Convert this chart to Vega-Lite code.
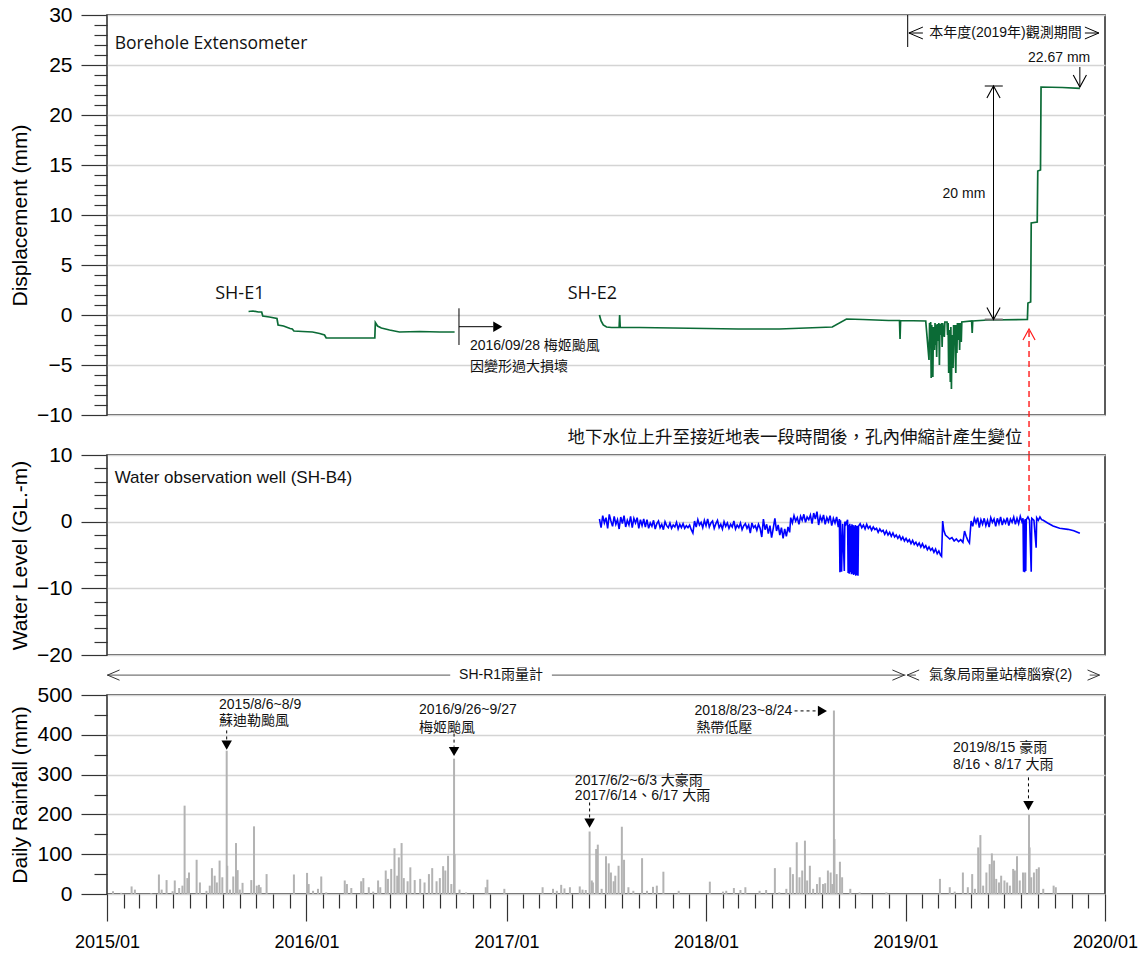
{
  "$schema": "https://vega.github.io/schema/vega-lite/v6.json",
  "background": "white",
  "padding": {"left": 8, "top": 3, "right": 5, "bottom": 5},
  "spacing": 40,
  "bounds": "flush",
  "config": {
    "view": {"stroke": "#262626", "strokeWidth": 1.5},
    "font": "Liberation Sans",
    "axis": {
      "labelFont": "Liberation Sans", "labelFontSize": 21, "labelColor": "#000",
      "titleFont": "Liberation Sans", "titleFontSize": 21, "titleFontWeight": "normal", "titleColor": "#000",
      "tickColor": "#333", "tickWidth": 1.2, "domain": false, "grid": true, "gridWidth": 1.4,
      "labelOverlap": false, "labelPadding": 9, "titlePadding": 6
    }
  },
  "datasets": {
    "disp": [
      {"d": "2015-09-17", "v": 0.35, "s": "E1"}, {"d": "2015-09-25", "v": 0.4, "s": "E1"}, {"d": "2015-10-05", "v": 0.3, "s": "E1"},
      {"d": "2015-10-11", "v": 0.3, "s": "E1"}, {"d": "2015-10-13", "v": -0.1, "s": "E1"}, {"d": "2015-10-25", "v": -0.2, "s": "E1"},
      {"d": "2015-11-08", "v": -0.35, "s": "E1"}, {"d": "2015-11-10", "v": -1.0, "s": "E1"}, {"d": "2015-11-20", "v": -1.1, "s": "E1"},
      {"d": "2015-12-02", "v": -1.35, "s": "E1"}, {"d": "2015-12-06", "v": -1.4, "s": "E1"}, {"d": "2015-12-09", "v": -1.6, "s": "E1"},
      {"d": "2015-12-25", "v": -1.65, "s": "E1"}, {"d": "2016-01-12", "v": -1.7, "s": "E1"}, {"d": "2016-01-25", "v": -1.85, "s": "E1"},
      {"d": "2016-02-03", "v": -2.0, "s": "E1"}, {"d": "2016-02-06", "v": -2.3, "s": "E1"}, {"d": "2016-05-05", "v": -2.3, "s": "E1"},
      {"d": "2016-05-06", "v": -0.75, "s": "E1"}, {"d": "2016-05-10", "v": -1.1, "s": "E1"}, {"d": "2016-05-17", "v": -1.3, "s": "E1"},
      {"d": "2016-06-01", "v": -1.5, "s": "E1"}, {"d": "2016-06-19", "v": -1.7, "s": "E1"}, {"d": "2016-07-26", "v": -1.65, "s": "E1"},
      {"d": "2016-09-01", "v": -1.7, "s": "E1"}, {"d": "2016-09-28", "v": -1.7, "s": "E1"},
      {"d": "2017-06-20", "v": 0.0, "s": "E2"}, {"d": "2017-06-23", "v": -0.6, "s": "E2"}, {"d": "2017-06-27", "v": -1.0, "s": "E2"},
      {"d": "2017-07-03", "v": -1.2, "s": "E2"}, {"d": "2017-07-12", "v": -1.25, "s": "E2"}, {"d": "2017-07-26", "v": -1.25, "s": "E2"},
      {"d": "2017-07-27", "v": 0.0, "s": "E2"}, {"d": "2017-07-28", "v": -1.25, "s": "E2"}, {"d": "2017-09-01", "v": -1.25, "s": "E2"},
      {"d": "2017-11-01", "v": -1.3, "s": "E2"}, {"d": "2018-01-01", "v": -1.35, "s": "E2"}, {"d": "2018-03-01", "v": -1.4, "s": "E2"},
      {"d": "2018-05-15", "v": -1.4, "s": "E2"}, {"d": "2018-08-20", "v": -1.2, "s": "E2"}, {"d": "2018-09-15", "v": -0.4, "s": "E2"},
      {"d": "2018-10-15", "v": -0.45, "s": "E2"}, {"d": "2018-12-01", "v": -0.55, "s": "E2"}, {"d": "2018-12-21", "v": -0.55, "s": "E2"},
      {"d": "2018-12-22", "v": -2.4, "s": "E2"}, {"d": "2018-12-23", "v": -0.55, "s": "E2"}, {"d": "2019-02-07", "v": -0.6, "s": "E2"},
      {"d": "2019-02-13", "v": -4.5, "s": "E2"}, {"d": "2019-02-14", "v": -0.8, "s": "E2"}, {"d": "2019-02-15", "v": -3.0, "s": "E2"},
      {"d": "2019-02-16", "v": -0.7, "s": "E2"}, {"d": "2019-02-17", "v": -6.3, "s": "E2"}, {"d": "2019-02-18", "v": -1.0, "s": "E2"},
      {"d": "2019-02-19", "v": -3.8, "s": "E2"}, {"d": "2019-02-20", "v": -6.2, "s": "E2"}, {"d": "2019-02-21", "v": -1.2, "s": "E2"},
      {"d": "2019-02-22", "v": -2.5, "s": "E2"}, {"d": "2019-02-23", "v": -3.5, "s": "E2"}, {"d": "2019-02-24", "v": -0.8, "s": "E2"},
      {"d": "2019-02-25", "v": -3.0, "s": "E2"}, {"d": "2019-02-26", "v": -1.0, "s": "E2"}, {"d": "2019-02-27", "v": -4.2, "s": "E2"},
      {"d": "2019-02-28", "v": -0.9, "s": "E2"}, {"d": "2019-03-02", "v": -2.6, "s": "E2"}, {"d": "2019-03-03", "v": -0.8, "s": "E2"},
      {"d": "2019-03-04", "v": -5.0, "s": "E2"}, {"d": "2019-03-05", "v": -0.9, "s": "E2"}, {"d": "2019-03-07", "v": -2.0, "s": "E2"},
      {"d": "2019-03-08", "v": -0.8, "s": "E2"}, {"d": "2019-03-09", "v": -3.2, "s": "E2"}, {"d": "2019-03-10", "v": -0.8, "s": "E2"},
      {"d": "2019-03-13", "v": -2.2, "s": "E2"}, {"d": "2019-03-14", "v": -0.7, "s": "E2"}, {"d": "2019-03-18", "v": -0.7, "s": "E2"},
      {"d": "2019-03-19", "v": -2.0, "s": "E2"}, {"d": "2019-03-20", "v": -0.8, "s": "E2"}, {"d": "2019-03-21", "v": -5.8, "s": "E2"},
      {"d": "2019-03-22", "v": -1.5, "s": "E2"}, {"d": "2019-03-23", "v": -4.0, "s": "E2"}, {"d": "2019-03-24", "v": -6.7, "s": "E2"},
      {"d": "2019-03-25", "v": -1.2, "s": "E2"}, {"d": "2019-03-26", "v": -7.4, "s": "E2"}, {"d": "2019-03-27", "v": -2.0, "s": "E2"},
      {"d": "2019-03-28", "v": -4.5, "s": "E2"}, {"d": "2019-03-29", "v": -5.3, "s": "E2"}, {"d": "2019-03-30", "v": -1.0, "s": "E2"},
      {"d": "2019-03-31", "v": -3.0, "s": "E2"}, {"d": "2019-04-01", "v": -1.0, "s": "E2"}, {"d": "2019-04-02", "v": -4.0, "s": "E2"},
      {"d": "2019-04-03", "v": -5.8, "s": "E2"}, {"d": "2019-04-04", "v": -1.0, "s": "E2"}, {"d": "2019-04-05", "v": -3.8, "s": "E2"},
      {"d": "2019-04-06", "v": -0.8, "s": "E2"}, {"d": "2019-04-08", "v": -2.5, "s": "E2"}, {"d": "2019-04-09", "v": -0.8, "s": "E2"},
      {"d": "2019-04-10", "v": -3.5, "s": "E2"}, {"d": "2019-04-11", "v": -0.8, "s": "E2"}, {"d": "2019-04-13", "v": -2.7, "s": "E2"},
      {"d": "2019-04-14", "v": -0.7, "s": "E2"}, {"d": "2019-05-02", "v": -0.6, "s": "E2"}, {"d": "2019-05-03", "v": -1.8, "s": "E2"},
      {"d": "2019-05-04", "v": -0.6, "s": "E2"}, {"d": "2019-06-01", "v": -0.5, "s": "E2"}, {"d": "2019-08-12", "v": -0.45, "s": "E2"},
      {"d": "2019-08-13", "v": 1.2, "s": "E2"}, {"d": "2019-08-18", "v": 1.3, "s": "E2"}, {"d": "2019-08-19", "v": 9.2, "s": "E2"},
      {"d": "2019-08-30", "v": 9.3, "s": "E2"}, {"d": "2019-08-31", "v": 14.4, "s": "E2"}, {"d": "2019-09-05", "v": 14.5, "s": "E2"},
      {"d": "2019-09-06", "v": 22.8, "s": "E2"}, {"d": "2019-10-15", "v": 22.75, "s": "E2"}, {"d": "2019-11-16", "v": 22.67, "s": "E2"}
    ],
    "wl": [
      {"d": "2017-06-20", "v": 0.4}, {"d": "2017-06-23", "v": -0.9}, {"d": "2017-06-26", "v": 0.9}, {"d": "2017-06-29", "v": -0.2},
      {"d": "2017-07-02", "v": 0.6}, {"d": "2017-07-05", "v": -1.0}, {"d": "2017-07-08", "v": 1.1}, {"d": "2017-07-11", "v": 0.1},
      {"d": "2017-07-14", "v": -0.7}, {"d": "2017-07-17", "v": 0.8}, {"d": "2017-07-20", "v": -0.4}, {"d": "2017-07-23", "v": 0.3},
      {"d": "2017-07-26", "v": -1.1}, {"d": "2017-07-29", "v": 0.7}, {"d": "2017-08-01", "v": -0.3}, {"d": "2017-08-04", "v": 0.9},
      {"d": "2017-08-07", "v": -0.8}, {"d": "2017-08-10", "v": 0.2}, {"d": "2017-08-13", "v": -0.5}, {"d": "2017-08-16", "v": 0.8},
      {"d": "2017-08-19", "v": -0.9}, {"d": "2017-08-22", "v": 0.5}, {"d": "2017-08-25", "v": -0.2}, {"d": "2017-08-28", "v": 0.6},
      {"d": "2017-08-31", "v": -1.0}, {"d": "2017-09-03", "v": 0.3}, {"d": "2017-09-06", "v": -0.6}, {"d": "2017-09-09", "v": 0.4},
      {"d": "2017-09-12", "v": -0.8}, {"d": "2017-09-15", "v": 0.3}, {"d": "2017-09-18", "v": -1.0}, {"d": "2017-09-21", "v": -0.2},
      {"d": "2017-09-24", "v": -0.7}, {"d": "2017-09-27", "v": 0.2}, {"d": "2017-09-30", "v": -1.1}, {"d": "2017-10-03", "v": -0.3},
      {"d": "2017-10-06", "v": 0.1}, {"d": "2017-10-09", "v": -0.9}, {"d": "2017-10-12", "v": -0.4}, {"d": "2017-10-15", "v": -1.2},
      {"d": "2017-10-18", "v": 0.0}, {"d": "2017-10-21", "v": -0.6}, {"d": "2017-10-24", "v": -0.9}, {"d": "2017-10-27", "v": -0.2},
      {"d": "2017-10-30", "v": -1.0}, {"d": "2017-11-02", "v": -0.5}, {"d": "2017-11-05", "v": -0.8}, {"d": "2017-11-08", "v": -0.1},
      {"d": "2017-11-11", "v": -1.1}, {"d": "2017-11-14", "v": -0.4}, {"d": "2017-11-17", "v": -0.9}, {"d": "2017-11-20", "v": -0.3},
      {"d": "2017-11-23", "v": -1.0}, {"d": "2017-11-26", "v": -0.6}, {"d": "2017-11-29", "v": -0.9}, {"d": "2017-12-02", "v": -0.5},
      {"d": "2017-12-05", "v": -1.2}, {"d": "2017-12-08", "v": -1.7}, {"d": "2017-12-11", "v": 0.1}, {"d": "2017-12-14", "v": -0.8},
      {"d": "2017-12-17", "v": 0.3}, {"d": "2017-12-20", "v": -0.5}, {"d": "2017-12-23", "v": -0.1}, {"d": "2017-12-26", "v": -0.9},
      {"d": "2017-12-29", "v": 0.2}, {"d": "2018-01-01", "v": -0.6}, {"d": "2018-01-04", "v": 0.4}, {"d": "2018-01-07", "v": -0.8},
      {"d": "2018-01-10", "v": -0.2}, {"d": "2018-01-13", "v": 0.1}, {"d": "2018-01-16", "v": -1.0}, {"d": "2018-01-19", "v": -0.3},
      {"d": "2018-01-22", "v": 0.2}, {"d": "2018-01-25", "v": -0.9}, {"d": "2018-01-28", "v": -0.4}, {"d": "2018-01-31", "v": -1.1},
      {"d": "2018-02-03", "v": 0.0}, {"d": "2018-02-06", "v": -0.7}, {"d": "2018-02-09", "v": -0.2}, {"d": "2018-02-12", "v": -1.0},
      {"d": "2018-02-15", "v": -0.4}, {"d": "2018-02-18", "v": -0.8}, {"d": "2018-02-21", "v": 0.1}, {"d": "2018-02-24", "v": -1.1},
      {"d": "2018-02-27", "v": -0.5}, {"d": "2018-03-02", "v": -0.9}, {"d": "2018-03-05", "v": -0.2}, {"d": "2018-03-08", "v": -1.2},
      {"d": "2018-03-11", "v": -0.6}, {"d": "2018-03-14", "v": -0.3}, {"d": "2018-03-17", "v": -1.0}, {"d": "2018-03-20", "v": -0.5},
      {"d": "2018-03-23", "v": -1.7}, {"d": "2018-03-26", "v": -0.2}, {"d": "2018-03-29", "v": -0.9}, {"d": "2018-04-01", "v": -0.6},
      {"d": "2018-04-04", "v": -1.3}, {"d": "2018-04-07", "v": -0.4}, {"d": "2018-04-10", "v": -1.0}, {"d": "2018-04-13", "v": -2.3},
      {"d": "2018-04-16", "v": 0.4}, {"d": "2018-04-19", "v": -1.2}, {"d": "2018-04-22", "v": -0.4}, {"d": "2018-04-25", "v": -1.8},
      {"d": "2018-04-28", "v": -0.6}, {"d": "2018-05-01", "v": -2.4}, {"d": "2018-05-04", "v": -1.0}, {"d": "2018-05-07", "v": 0.5},
      {"d": "2018-05-10", "v": -1.4}, {"d": "2018-05-13", "v": -0.5}, {"d": "2018-05-16", "v": -2.0}, {"d": "2018-05-19", "v": -0.9},
      {"d": "2018-05-22", "v": -2.5}, {"d": "2018-05-25", "v": -1.1}, {"d": "2018-05-28", "v": -2.2}, {"d": "2018-05-31", "v": -0.8},
      {"d": "2018-06-03", "v": -1.6}, {"d": "2018-06-05", "v": 0.6}, {"d": "2018-06-08", "v": -0.2}, {"d": "2018-06-11", "v": 0.9},
      {"d": "2018-06-14", "v": 0.1}, {"d": "2018-06-17", "v": 0.6}, {"d": "2018-06-20", "v": -0.4}, {"d": "2018-06-23", "v": 0.8},
      {"d": "2018-06-26", "v": 0.2}, {"d": "2018-06-29", "v": 1.1}, {"d": "2018-07-02", "v": -0.1}, {"d": "2018-07-05", "v": 0.7},
      {"d": "2018-07-08", "v": 0.3}, {"d": "2018-07-11", "v": 1.0}, {"d": "2018-07-14", "v": -0.3}, {"d": "2018-07-17", "v": 1.3},
      {"d": "2018-07-20", "v": 0.4}, {"d": "2018-07-23", "v": 1.5}, {"d": "2018-07-26", "v": -0.5}, {"d": "2018-07-29", "v": 0.8},
      {"d": "2018-08-01", "v": 0.1}, {"d": "2018-08-04", "v": 1.0}, {"d": "2018-08-07", "v": -0.4}, {"d": "2018-08-10", "v": 0.6},
      {"d": "2018-08-13", "v": 0.0}, {"d": "2018-08-16", "v": 0.9}, {"d": "2018-08-19", "v": -0.6}, {"d": "2018-08-22", "v": 0.5},
      {"d": "2018-08-25", "v": -0.2}, {"d": "2018-08-28", "v": 0.7}, {"d": "2018-08-31", "v": -0.8}, {"d": "2018-09-02", "v": 0.4},
      {"d": "2018-09-03", "v": -7.6}, {"d": "2018-09-04", "v": 0.2}, {"d": "2018-09-06", "v": -7.5}, {"d": "2018-09-08", "v": -0.3},
      {"d": "2018-09-11", "v": -7.4}, {"d": "2018-09-12", "v": 0.0}, {"d": "2018-09-14", "v": -0.4}, {"d": "2018-09-17", "v": 0.3},
      {"d": "2018-09-18", "v": -7.7}, {"d": "2018-09-19", "v": -0.5}, {"d": "2018-09-20", "v": -7.8}, {"d": "2018-09-21", "v": -0.3},
      {"d": "2018-09-22", "v": -7.6}, {"d": "2018-09-23", "v": -0.6}, {"d": "2018-09-24", "v": -7.9}, {"d": "2018-09-25", "v": -0.4},
      {"d": "2018-09-26", "v": -7.8}, {"d": "2018-09-27", "v": -0.5}, {"d": "2018-09-28", "v": -8.0}, {"d": "2018-09-29", "v": -0.7},
      {"d": "2018-09-30", "v": -7.9}, {"d": "2018-10-01", "v": -0.5}, {"d": "2018-10-02", "v": -8.1}, {"d": "2018-10-03", "v": -0.6},
      {"d": "2018-10-04", "v": -8.0}, {"d": "2018-10-05", "v": -0.6}, {"d": "2018-10-06", "v": -8.1}, {"d": "2018-10-07", "v": -0.7},
      {"d": "2018-10-10", "v": -0.3}, {"d": "2018-10-13", "v": -0.9}, {"d": "2018-10-16", "v": -0.5}, {"d": "2018-10-19", "v": -1.1},
      {"d": "2018-10-22", "v": -0.4}, {"d": "2018-10-25", "v": -1.0}, {"d": "2018-10-28", "v": -0.7}, {"d": "2018-10-31", "v": -1.3},
      {"d": "2018-11-03", "v": -0.8}, {"d": "2018-11-06", "v": -1.2}, {"d": "2018-11-09", "v": -1.0}, {"d": "2018-11-12", "v": -1.6},
      {"d": "2018-11-15", "v": -1.1}, {"d": "2018-11-18", "v": -1.5}, {"d": "2018-11-21", "v": -1.3}, {"d": "2018-11-24", "v": -1.9},
      {"d": "2018-11-27", "v": -1.4}, {"d": "2018-11-30", "v": -2.0}, {"d": "2018-12-03", "v": -1.6}, {"d": "2018-12-06", "v": -2.2},
      {"d": "2018-12-09", "v": -1.7}, {"d": "2018-12-12", "v": -2.3}, {"d": "2018-12-15", "v": -2.0}, {"d": "2018-12-18", "v": -2.5},
      {"d": "2018-12-21", "v": -2.1}, {"d": "2018-12-24", "v": -2.7}, {"d": "2018-12-27", "v": -2.3}, {"d": "2018-12-30", "v": -2.9},
      {"d": "2019-01-02", "v": -2.5}, {"d": "2019-01-05", "v": -3.0}, {"d": "2019-01-08", "v": -2.7}, {"d": "2019-01-11", "v": -3.3},
      {"d": "2019-01-14", "v": -2.8}, {"d": "2019-01-17", "v": -3.4}, {"d": "2019-01-20", "v": -3.1}, {"d": "2019-01-23", "v": -3.6},
      {"d": "2019-01-26", "v": -3.2}, {"d": "2019-01-29", "v": -3.8}, {"d": "2019-02-01", "v": -3.3}, {"d": "2019-02-04", "v": -3.9},
      {"d": "2019-02-07", "v": -3.6}, {"d": "2019-02-10", "v": -4.2}, {"d": "2019-02-13", "v": -3.8}, {"d": "2019-02-16", "v": -4.3},
      {"d": "2019-02-19", "v": -4.0}, {"d": "2019-02-22", "v": -4.6}, {"d": "2019-02-25", "v": -4.1}, {"d": "2019-02-28", "v": -4.8},
      {"d": "2019-03-03", "v": -4.4}, {"d": "2019-03-06", "v": -5.0}, {"d": "2019-03-08", "v": -5.2}, {"d": "2019-03-10", "v": 0.1},
      {"d": "2019-03-12", "v": -1.3}, {"d": "2019-03-15", "v": -2.0}, {"d": "2019-03-19", "v": -2.3}, {"d": "2019-03-23", "v": -2.6},
      {"d": "2019-03-27", "v": -2.4}, {"d": "2019-03-31", "v": -2.9}, {"d": "2019-04-04", "v": -2.6}, {"d": "2019-04-08", "v": -3.0},
      {"d": "2019-04-12", "v": -2.7}, {"d": "2019-04-16", "v": -3.1}, {"d": "2019-04-19", "v": -1.4}, {"d": "2019-04-22", "v": -2.2},
      {"d": "2019-04-25", "v": -2.8}, {"d": "2019-04-28", "v": -3.2}, {"d": "2019-05-01", "v": 0.1}, {"d": "2019-05-04", "v": -0.7},
      {"d": "2019-05-07", "v": 0.5}, {"d": "2019-05-10", "v": -0.2}, {"d": "2019-05-13", "v": 0.6}, {"d": "2019-05-16", "v": -0.9},
      {"d": "2019-05-19", "v": 0.3}, {"d": "2019-05-22", "v": -0.4}, {"d": "2019-05-25", "v": 0.5}, {"d": "2019-05-28", "v": -0.6},
      {"d": "2019-05-31", "v": 0.2}, {"d": "2019-06-03", "v": -0.8}, {"d": "2019-06-06", "v": 0.6}, {"d": "2019-06-09", "v": -0.1},
      {"d": "2019-06-12", "v": 0.4}, {"d": "2019-06-15", "v": -0.7}, {"d": "2019-06-18", "v": 0.5}, {"d": "2019-06-21", "v": -0.3},
      {"d": "2019-06-24", "v": 0.7}, {"d": "2019-06-27", "v": -0.5}, {"d": "2019-06-30", "v": 0.3}, {"d": "2019-07-03", "v": -0.2},
      {"d": "2019-07-06", "v": 0.6}, {"d": "2019-07-09", "v": -0.6}, {"d": "2019-07-12", "v": 0.4}, {"d": "2019-07-15", "v": -0.1},
      {"d": "2019-07-18", "v": 0.7}, {"d": "2019-07-21", "v": -0.4}, {"d": "2019-07-24", "v": 0.5}, {"d": "2019-07-27", "v": -0.3},
      {"d": "2019-07-30", "v": 0.8}, {"d": "2019-08-02", "v": 0.0}, {"d": "2019-08-04", "v": 0.5}, {"d": "2019-08-05", "v": -7.5},
      {"d": "2019-08-06", "v": 0.2}, {"d": "2019-08-07", "v": -7.6}, {"d": "2019-08-08", "v": 0.4}, {"d": "2019-08-09", "v": -7.4},
      {"d": "2019-08-10", "v": 0.3}, {"d": "2019-08-13", "v": 0.7}, {"d": "2019-08-16", "v": 0.2}, {"d": "2019-08-19", "v": -7.5},
      {"d": "2019-08-20", "v": 0.5}, {"d": "2019-08-24", "v": 0.2}, {"d": "2019-08-28", "v": -3.9}, {"d": "2019-08-29", "v": 0.6},
      {"d": "2019-09-01", "v": 0.2}, {"d": "2019-09-04", "v": 0.7}, {"d": "2019-09-07", "v": 0.3}, {"d": "2019-09-10", "v": 0.2},
      {"d": "2019-09-18", "v": -0.2}, {"d": "2019-09-28", "v": -0.65}, {"d": "2019-10-10", "v": -1.0}, {"d": "2019-10-25", "v": -1.15},
      {"d": "2019-11-05", "v": -1.35}, {"d": "2019-11-16", "v": -1.75}
    ],
    "rain": [
      {"d": "2015-01-12", "r": 7}, {"d": "2015-01-27", "r": 3}, {"d": "2015-02-15", "r": 19}, {"d": "2015-02-21", "r": 11},
      {"d": "2015-03-23", "r": 2}, {"d": "2015-04-06", "r": 49}, {"d": "2015-04-11", "r": 11}, {"d": "2015-04-20", "r": 35},
      {"d": "2015-05-01", "r": 7}, {"d": "2015-05-05", "r": 34}, {"d": "2015-05-13", "r": 15}, {"d": "2015-05-19", "r": 21},
      {"d": "2015-05-23", "r": 222}, {"d": "2015-05-28", "r": 40}, {"d": "2015-05-31", "r": 54}, {"d": "2015-06-14", "r": 86},
      {"d": "2015-06-20", "r": 29}, {"d": "2015-07-02", "r": 8}, {"d": "2015-07-08", "r": 21}, {"d": "2015-07-12", "r": 65},
      {"d": "2015-07-17", "r": 46}, {"d": "2015-07-21", "r": 29}, {"d": "2015-07-26", "r": 84}, {"d": "2015-07-31", "r": 42},
      {"d": "2015-08-08", "r": 360}, {"d": "2015-08-09", "r": 71}, {"d": "2015-08-14", "r": 11}, {"d": "2015-08-20", "r": 44},
      {"d": "2015-08-25", "r": 128}, {"d": "2015-08-28", "r": 60}, {"d": "2015-09-01", "r": 11}, {"d": "2015-09-06", "r": 28},
      {"d": "2015-09-22", "r": 35}, {"d": "2015-09-27", "r": 170}, {"d": "2015-10-02", "r": 21}, {"d": "2015-10-06", "r": 23},
      {"d": "2015-10-09", "r": 17}, {"d": "2015-10-20", "r": 50}, {"d": "2015-12-09", "r": 49},
      {"d": "2016-01-02", "r": 53}, {"d": "2016-01-05", "r": 25}, {"d": "2016-01-13", "r": 8}, {"d": "2016-01-22", "r": 13},
      {"d": "2016-01-28", "r": 44}, {"d": "2016-02-06", "r": 4}, {"d": "2016-03-11", "r": 34}, {"d": "2016-03-15", "r": 25},
      {"d": "2016-03-23", "r": 15}, {"d": "2016-04-10", "r": 32}, {"d": "2016-04-14", "r": 40}, {"d": "2016-04-24", "r": 17},
      {"d": "2016-05-02", "r": 6}, {"d": "2016-05-11", "r": 34}, {"d": "2016-05-15", "r": 17}, {"d": "2016-05-25", "r": 59},
      {"d": "2016-05-29", "r": 38}, {"d": "2016-06-04", "r": 63}, {"d": "2016-06-10", "r": 115}, {"d": "2016-06-15", "r": 46},
      {"d": "2016-06-18", "r": 92}, {"d": "2016-06-23", "r": 128}, {"d": "2016-06-27", "r": 40}, {"d": "2016-07-04", "r": 32},
      {"d": "2016-07-09", "r": 67}, {"d": "2016-07-17", "r": 35}, {"d": "2016-07-27", "r": 38}, {"d": "2016-08-04", "r": 29},
      {"d": "2016-08-12", "r": 50}, {"d": "2016-08-18", "r": 65}, {"d": "2016-08-26", "r": 32}, {"d": "2016-09-01", "r": 40},
      {"d": "2016-09-07", "r": 70}, {"d": "2016-09-11", "r": 59}, {"d": "2016-09-16", "r": 96}, {"d": "2016-09-22", "r": 25},
      {"d": "2016-09-27", "r": 340}, {"d": "2016-09-28", "r": 100}, {"d": "2016-10-07", "r": 11}, {"d": "2016-10-19", "r": 4},
      {"d": "2016-11-24", "r": 17}, {"d": "2016-11-27", "r": 36}, {"d": "2016-12-28", "r": 13},
      {"d": "2017-03-08", "r": 17}, {"d": "2017-03-27", "r": 13}, {"d": "2017-04-03", "r": 8}, {"d": "2017-04-11", "r": 23},
      {"d": "2017-04-17", "r": 14}, {"d": "2017-04-27", "r": 17}, {"d": "2017-05-15", "r": 19}, {"d": "2017-05-20", "r": 11},
      {"d": "2017-05-26", "r": 10}, {"d": "2017-06-02", "r": 157}, {"d": "2017-06-06", "r": 34}, {"d": "2017-06-08", "r": 29},
      {"d": "2017-06-14", "r": 113}, {"d": "2017-06-17", "r": 124}, {"d": "2017-06-24", "r": 13}, {"d": "2017-07-02", "r": 95},
      {"d": "2017-07-07", "r": 77}, {"d": "2017-07-11", "r": 54}, {"d": "2017-07-16", "r": 32}, {"d": "2017-07-19", "r": 46},
      {"d": "2017-07-25", "r": 71}, {"d": "2017-07-31", "r": 169}, {"d": "2017-08-04", "r": 86}, {"d": "2017-08-12", "r": 17},
      {"d": "2017-08-21", "r": 8}, {"d": "2017-09-06", "r": 90}, {"d": "2017-09-15", "r": 8}, {"d": "2017-09-26", "r": 18},
      {"d": "2017-10-03", "r": 21}, {"d": "2017-10-15", "r": 56}, {"d": "2017-11-12", "r": 8},
      {"d": "2018-01-08", "r": 31}, {"d": "2018-02-01", "r": 6}, {"d": "2018-02-07", "r": 8}, {"d": "2018-02-21", "r": 15},
      {"d": "2018-03-05", "r": 10}, {"d": "2018-03-14", "r": 17}, {"d": "2018-04-09", "r": 8}, {"d": "2018-04-21", "r": 10},
      {"d": "2018-05-07", "r": 65}, {"d": "2018-05-15", "r": 4}, {"d": "2018-05-28", "r": 13}, {"d": "2018-06-04", "r": 67},
      {"d": "2018-06-09", "r": 50}, {"d": "2018-06-16", "r": 130}, {"d": "2018-06-21", "r": 42}, {"d": "2018-06-26", "r": 59},
      {"d": "2018-07-01", "r": 134}, {"d": "2018-07-05", "r": 34}, {"d": "2018-07-10", "r": 71}, {"d": "2018-07-16", "r": 13},
      {"d": "2018-07-23", "r": 25}, {"d": "2018-07-28", "r": 42}, {"d": "2018-08-03", "r": 25}, {"d": "2018-08-07", "r": 27},
      {"d": "2018-08-12", "r": 59}, {"d": "2018-08-17", "r": 54}, {"d": "2018-08-20", "r": 25}, {"d": "2018-08-23", "r": 461},
      {"d": "2018-08-24", "r": 138}, {"d": "2018-08-28", "r": 50}, {"d": "2018-09-03", "r": 81}, {"d": "2018-09-07", "r": 42},
      {"d": "2018-09-22", "r": 13}, {"d": "2018-10-09", "r": 4}, {"d": "2018-11-27", "r": 4},
      {"d": "2019-03-05", "r": 38}, {"d": "2019-03-23", "r": 17}, {"d": "2019-04-01", "r": 6}, {"d": "2019-04-16", "r": 54},
      {"d": "2019-04-25", "r": 17}, {"d": "2019-05-03", "r": 50}, {"d": "2019-05-08", "r": 13}, {"d": "2019-05-14", "r": 117},
      {"d": "2019-05-18", "r": 148}, {"d": "2019-05-23", "r": 21}, {"d": "2019-05-29", "r": 54}, {"d": "2019-06-04", "r": 75},
      {"d": "2019-06-08", "r": 102}, {"d": "2019-06-12", "r": 84}, {"d": "2019-06-16", "r": 38}, {"d": "2019-06-21", "r": 29},
      {"d": "2019-06-25", "r": 46}, {"d": "2019-07-01", "r": 34}, {"d": "2019-07-06", "r": 29}, {"d": "2019-07-11", "r": 21},
      {"d": "2019-07-17", "r": 63}, {"d": "2019-07-20", "r": 59}, {"d": "2019-07-24", "r": 95}, {"d": "2019-07-29", "r": 34},
      {"d": "2019-08-04", "r": 54}, {"d": "2019-08-08", "r": 54}, {"d": "2019-08-15", "r": 199}, {"d": "2019-08-16", "r": 117},
      {"d": "2019-08-19", "r": 42}, {"d": "2019-08-24", "r": 54}, {"d": "2019-08-29", "r": 63}, {"d": "2019-09-02", "r": 67},
      {"d": "2019-09-10", "r": 13}, {"d": "2019-09-29", "r": 21}, {"d": "2019-10-03", "r": 17}
    ]
  },
  "vconcat": [
    {
      "width": 998, "height": 400,
      "encoding": {
        "x": {"field": "d", "type": "temporal", "scale": {"domain": [{"year": 2015, "month": 1, "date": 1}, {"year": 2020, "month": 1, "date": 1}], "nice": false}, "axis": null},
        "y": {"field": "v", "type": "quantitative", "scale": {"domain": [-10, 30], "nice": false, "zero": false},
          "axis": {"title": "Displacement (mm)",
            "values": [-10,-9,-8,-7,-6,-5,-4,-3,-2,-1,0,1,2,3,4,5,6,7,8,9,10,11,12,13,14,15,16,17,18,19,20,21,22,23,24,25,26,27,28,29,30],
            "labelExpr": "datum.value % 5 === 0 ? datum.label : ''",
            "tickSize": {"condition": {"test": "datum.value % 5 === 0", "value": 26}, "value": 13},
            "gridColor": {"condition": {"test": "datum.value % 5 === 0", "value": "#d4d4d4"}, "value": "rgba(0,0,0,0)"}}}
      },
      "layer": [
        {"data": {"name": "disp"}, "mark": {"type": "line", "color": "#0b6b36", "strokeWidth": 1.7}, "encoding": {"detail": {"field": "s"}}},
        {"data": {"values": [{"d": "2015-01-15", "v": 27.1, "t": "Borehole Extensometer"}]},
          "mark": {"type": "text", "font": "Open Sans", "fontSize": 17.5, "align": "left", "baseline": "middle", "color": "#111"},
          "encoding": {"text": {"field": "t"}}},
        {"data": {"values": [{"d": "2015-09-01", "v": 2.15, "t": "SH-E1"}, {"d": "2017-06-07", "v": 2.15, "t": "SH-E2"}]},
          "mark": {"type": "text", "font": "Open Sans", "fontSize": 18, "align": "center", "baseline": "middle", "color": "#111"},
          "encoding": {"text": {"field": "t"}}},
        {"data": {"values": [{"d": "2016-10-26", "v": -3.1, "t": "2016/09/28 梅姬颱風"}, {"d": "2016-10-26", "v": -5.2, "t": "因變形過大損壞"}]},
          "mark": {"type": "text", "font": "Liberation Sans, Noto Sans CJK TC", "fontSize": 14, "align": "left", "baseline": "middle", "color": "#111"},
          "encoding": {"text": {"field": "t"}}},
        {"data": {"values": [{"d": "2019-05-27", "v": 12.1, "t": "20 mm"}]},
          "mark": {"type": "text", "font": "Liberation Sans", "fontSize": 14, "align": "right", "baseline": "middle", "color": "#111"},
          "encoding": {"text": {"field": "t"}}},
        {"data": {"values": [{"d": "2019-10-09", "v": 25.75, "t": "22.67 mm"}, {"d": "2019-07-03", "v": 28.2, "t": "本年度(2019年)觀測期間"}]},
          "mark": {"type": "text", "font": "Liberation Sans, Noto Sans CJK TC", "fontSize": 14, "align": "center", "baseline": "middle", "color": "#111"},
          "encoding": {"text": {"field": "t"}}},
        {"data": {"values": [{"d": "2016-10-06", "v": 0.67, "v2": -3.0}, {"d": "2019-06-11", "v": -0.45, "v2": 22.9}, {"d": "2019-01-05", "v": 30, "v2": 26.8}, {"d": "2019-11-16", "v": 24.8, "v2": 22.8}]},
          "mark": {"type": "rule", "color": "#000", "strokeWidth": 1}, "encoding": {"y2": {"field": "v2"}}},
        {"data": {"values": [{"d": "2016-10-06", "d2": "2016-12-08", "v": -1.17}, {"d": "2019-05-26", "d2": "2019-06-28", "v": 22.9}]},
          "mark": {"type": "rule", "color": "#000", "strokeWidth": 1}, "encoding": {"x2": {"field": "d2"}}},
        {"data": {"values": [{"d": "2019-05-26", "d2": "2019-06-28", "v": -0.45}]},
          "mark": {"type": "rule", "color": "#777", "strokeWidth": 2}, "encoding": {"x2": {"field": "d2"}}},
        {"data": {"values": [{"d": "2016-12-16", "v": -1.17}]},
          "mark": {"type": "point", "shape": "triangle-right", "filled": true, "color": "#000", "size": 110, "opacity": 1}},
        {"data": {"values": [{"d": "2019-06-11", "v": 22.9}]},
          "mark": {"type": "point", "shape": "M-0.55,1L0,0L0.55,1", "filled": false, "color": "#000", "size": 576, "strokeWidth": 1.1, "opacity": 1}},
        {"data": {"values": [{"d": "2019-06-11", "v": -0.45}, {"d": "2019-11-16", "v": 22.8}]},
          "mark": {"type": "point", "shape": "M-0.55,-1L0,0L0.55,-1", "filled": false, "color": "#000", "size": 576, "strokeWidth": 1.1, "opacity": 1}},
        {"data": {"values": [{"d": "2019-01-20", "v": 28.2}]},
          "mark": {"type": "point", "shape": "M1,-0.85L-1,0L1,0.85M-1,0L1,0", "filled": false, "color": "#000", "size": 196, "strokeWidth": 1, "opacity": 1}},
        {"data": {"values": [{"d": "2019-12-08", "v": 28.2}]},
          "mark": {"type": "point", "shape": "M-1,0L1,0M-1,-0.85L1,0L-1,0.85", "filled": false, "color": "#000", "size": 196, "strokeWidth": 1, "opacity": 1}},
        {"data": {"values": [{"d": "2019-08-15", "v": -1.6, "v2": -14}]},
          "mark": {"type": "rule", "color": "#ff1a1a", "strokeWidth": 1.4, "strokeDash": [6, 4]}, "encoding": {"y2": {"field": "v2"}}},
        {"data": {"values": [{"d": "2019-08-15", "v": -1.4}]},
          "mark": {"type": "point", "shape": "M-0.55,1L0,0L0.55,1", "filled": false, "color": "#ff1a1a", "size": 484, "strokeWidth": 1.2, "opacity": 1}}
      ]
    },
    {
      "width": 998, "height": 200,
      "encoding": {
        "x": {"field": "d", "type": "temporal", "scale": {"domain": [{"year": 2015, "month": 1, "date": 1}, {"year": 2020, "month": 1, "date": 1}], "nice": false}, "axis": null},
        "y": {"field": "v", "type": "quantitative", "scale": {"domain": [-20, 10], "nice": false, "zero": false},
          "axis": {"title": "Water Level (GL.-m)",
            "values": [-20,-18,-16,-14,-12,-10,-8,-6,-4,-2,0,2,4,6,8,10],
            "labelExpr": "datum.value % 10 === 0 ? datum.label : ''",
            "tickSize": {"condition": {"test": "datum.value % 10 === 0", "value": 26}, "value": 13},
            "gridColor": {"condition": {"test": "datum.value % 10 === 0", "value": "#d4d4d4"}, "value": "rgba(0,0,0,0)"}}}
      },
      "layer": [
        {"data": {"name": "wl"}, "mark": {"type": "line", "color": "#0000ff", "strokeWidth": 1.6}},
        {"data": {"values": [{"d": "2015-01-15", "v": 6.6, "t": "Water observation well (SH-B4)"}]},
          "mark": {"type": "text", "font": "Liberation Sans", "fontSize": 17, "align": "left", "baseline": "middle", "color": "#111"},
          "encoding": {"text": {"field": "t"}}},
        {"data": {"values": [{"d": "2019-08-03", "v": 12.6, "t": "地下水位上升至接近地表一段時間後，孔內伸縮計產生變位"}]},
          "mark": {"type": "text", "font": "Noto Sans CJK TC", "fontSize": 17.5, "align": "right", "baseline": "middle", "color": "#111"},
          "encoding": {"text": {"field": "t"}}},
        {"data": {"values": [{"d": "2019-08-15", "v": 10, "v2": 1.0}]},
          "mark": {"type": "rule", "color": "#ff1a1a", "strokeWidth": 1.4, "strokeDash": [6, 4]}, "encoding": {"y2": {"field": "v2"}}}
      ]
    },
    {
      "width": 998, "height": 199,
      "encoding": {
        "x": {"field": "d", "type": "temporal", "scale": {"domain": [{"year": 2015, "month": 1, "date": 1}, {"year": 2020, "month": 1, "date": 1}], "nice": false},
          "axis": {"title": null, "grid": false, "tickCount": {"interval": "month", "step": 1},
            "labelExpr": "month(datum.value) === 0 ? timeFormat(datum.value, '%Y/%m') : ''",
            "tickSize": {"condition": {"test": "month(datum.value) === 0", "value": 27}, "value": 14},
            "labelFontSize": 18, "labelPadding": 12, "labelFlush": false, "labelBound": false}},
        "y": {"field": "r", "type": "quantitative", "scale": {"domain": [0, 500], "nice": false},
          "axis": {"title": "Daily Rainfall (mm)",
            "values": [0,50,100,150,200,250,300,350,400,450,500],
            "labelExpr": "datum.value % 100 === 0 ? datum.label : ''",
            "tickSize": {"condition": {"test": "datum.value % 100 === 0", "value": 26}, "value": 13},
            "gridColor": {"condition": {"test": "datum.value % 100 === 0", "value": "#d4d4d4"}, "value": "rgba(0,0,0,0)"}}}
      },
      "layer": [
        {"data": {"name": "rain"}, "mark": {"type": "rule", "color": "#b3b3b3", "strokeWidth": 2}, "encoding": {"y2": {"datum": 0}}},
        {"data": {"values": [
            {"d": "2015-07-25", "r": 476, "t": "2015/8/6~8/9"}, {"d": "2015-07-25", "r": 434, "t": "蘇迪勒颱風"},
            {"d": "2016-07-25", "r": 463, "t": "2016/9/26~9/27"}, {"d": "2016-07-25", "r": 418, "t": "梅姬颱風"},
            {"d": "2017-05-06", "r": 285, "t": "2017/6/2~6/3  大豪雨"}, {"d": "2017-05-06", "r": 245, "t": "2017/6/14、6/17  大雨"},
            {"d": "2017-12-11", "r": 460, "t": "2018/8/23~8/24"}, {"d": "2017-12-14", "r": 417, "t": "熱帶低壓"},
            {"d": "2019-03-29", "r": 368, "t": "2019/8/15 豪雨"}, {"d": "2019-03-29", "r": 325, "t": "8/16、8/17 大雨"}]},
          "mark": {"type": "text", "font": "Liberation Sans, Noto Sans CJK TC", "fontSize": 14, "align": "left", "baseline": "middle", "color": "#111"},
          "encoding": {"text": {"field": "t"}}},
        {"data": {"values": [{"d": "2015-08-08", "r": 411, "r2": 386}, {"d": "2016-09-27", "r": 403, "r2": 370}, {"d": "2017-06-02", "r": 230, "r2": 189}, {"d": "2019-08-14", "r": 293, "r2": 234}]},
          "mark": {"type": "rule", "color": "#000", "strokeWidth": 1, "strokeDash": [3, 3]}, "encoding": {"y2": {"field": "r2"}}},
        {"data": {"values": [{"d": "2018-06-12", "d2": "2018-07-24", "r": 460}]},
          "mark": {"type": "rule", "color": "#000", "strokeWidth": 1, "strokeDash": [3, 3]}, "encoding": {"x2": {"field": "d2"}}},
        {"data": {"values": [{"d": "2015-08-08", "r": 374}, {"d": "2016-09-27", "r": 358}, {"d": "2017-06-02", "r": 178}, {"d": "2019-08-14", "r": 222}]},
          "mark": {"type": "point", "shape": "triangle-down", "filled": true, "color": "#000", "size": 110, "opacity": 1}},
        {"data": {"values": [{"d": "2018-08-02", "r": 460}]},
          "mark": {"type": "point", "shape": "triangle-right", "filled": true, "color": "#000", "size": 110, "opacity": 1}},
        {"data": {"values": [{"d": "2015-01-01", "d2": "2016-09-20", "r": 550}, {"d": "2017-03-25", "d2": "2019-01-01", "r": 550}, {"d": "2019-01-04", "d2": "2019-01-20", "r": 550}, {"d": "2019-12-04", "d2": "2019-12-22", "r": 550}]},
          "mark": {"type": "rule", "color": "#555", "strokeWidth": 1}, "encoding": {"x2": {"field": "d2"}}},
        {"data": {"values": [{"d": "2015-01-02", "r": 550}, {"d": "2019-01-04", "r": 550}]},
          "mark": {"type": "point", "shape": "M2,-0.85L0,0L2,0.85", "filled": false, "color": "#333", "size": 144, "strokeWidth": 1, "opacity": 1}},
        {"data": {"values": [{"d": "2018-12-30", "r": 550}, {"d": "2019-12-22", "r": 550}]},
          "mark": {"type": "point", "shape": "M-2,-0.85L0,0L-2,0.85", "filled": false, "color": "#333", "size": 144, "strokeWidth": 1, "opacity": 1}},
        {"data": {"values": [{"d": "2016-12-22", "r": 550, "t": "SH-R1雨量計"}, {"d": "2019-06-24", "r": 550, "t": "氣象局雨量站樟腦寮(2)"}]},
          "mark": {"type": "text", "font": "Liberation Sans, Noto Sans CJK TC", "fontSize": 14, "align": "center", "baseline": "middle", "color": "#111"},
          "encoding": {"text": {"field": "t"}}}
      ]
    }
  ]
}
